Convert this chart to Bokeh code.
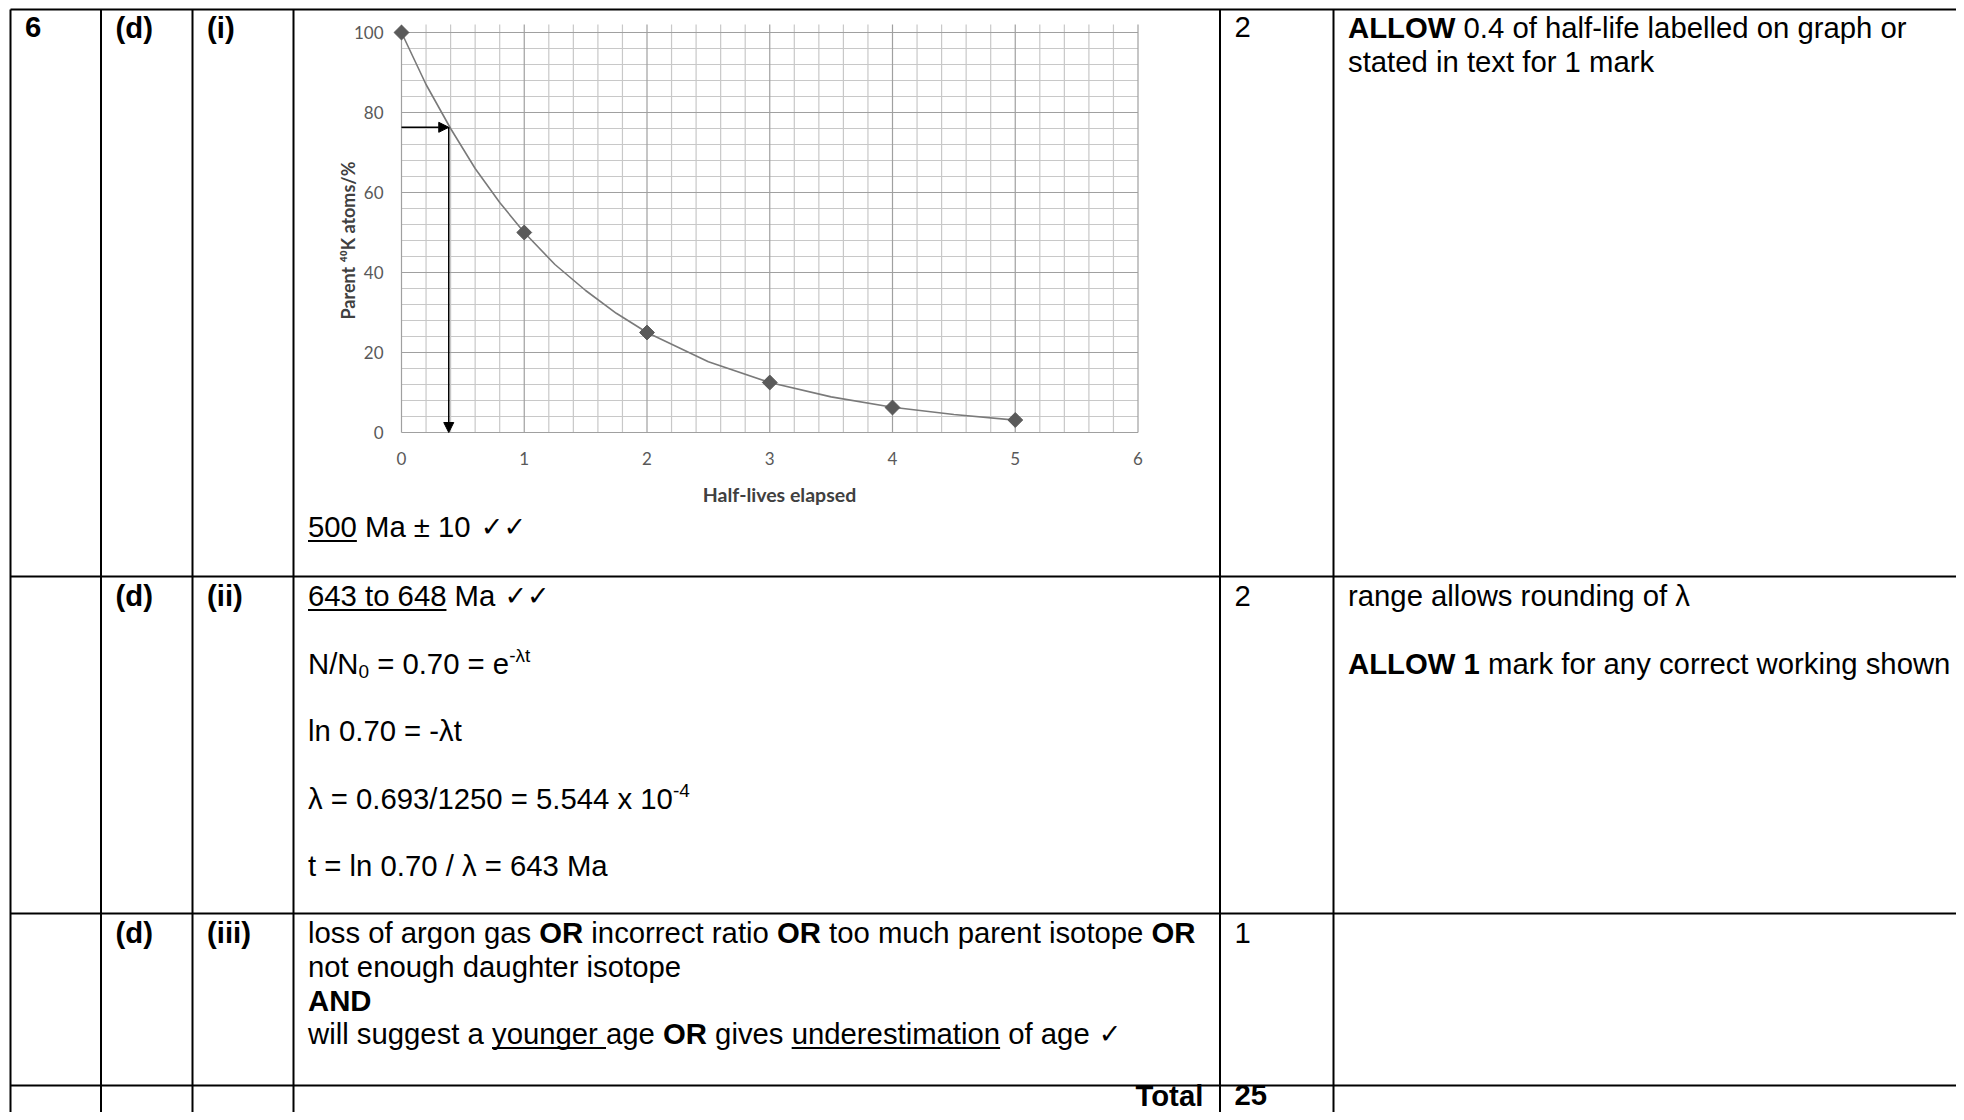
import numpy as np
from bokeh.plotting import figure
from bokeh.models import Range1d, LinearAxis, FixedTicker, Arrow, NormalHead
from bokeh.core.properties import value
from bokeh.embed import file_html
from bokeh.resources import INLINE

# ---------------- chart data ----------------
half_lives = [0, 1, 2, 3, 4, 5]
parent_pct = [100, 50, 25, 12.5, 6.25, 3.125]
curve_x = [0, 0.2, 0.4, 0.6, 0.8, 1.0, 1.25, 1.5, 1.75, 2.0, 2.5, 3.0, 3.5, 4.0, 4.5, 5.0]
curve_y = [100, 87, 76, 66, 57.5, 50, 42, 35.5, 29.8, 25, 17.7, 12.5, 8.9, 6.3, 4.5, 3.1]
x_ticks = [0, 1, 2, 3, 4, 5, 6]
y_ticks = [0, 20, 40, 60, 80, 100]
x_minor = [i / 5 for i in range(31)]
y_minor = [i * 4 for i in range(26)]
read_x = 0.385      # half-lives
read_y = 76.3       # percentage remaining
x_title = "Half-lives elapsed"
y_title = "Parent \u2074\u2070K atoms/%"

# ---------------- page layout ----------------
W, H = 1956, 1112
p = figure(width=W, height=H, x_range=Range1d(0, W), y_range=Range1d(H, 0),
           x_axis_type=None, y_axis_type=None, output_backend="svg",
           toolbar_location=None, min_border=0, outline_line_color=None,
           background_fill_color="white", border_fill_color="white")

CX0, CX6 = 401.0, 1137.5
KX = (CX6 - CX0) / 6
CY0, KY = 432.0, 4.0
p.extra_x_ranges = {"cx": Range1d((0 - CX0) / KX, (W - CX0) / KX)}
p.extra_y_ranges = {"cy": Range1d((CY0 - H) / KY, (CY0 - 0) / KY)}
C = dict(x_range_name="cx", y_range_name="cy")

# grid
mx = [v for v in x_minor if abs(v - round(v)) > 1e-9]
my = [v for v in y_minor if v % 20 != 0]
p.segment(mx, [0] * len(mx), mx, [102] * len(mx), line_color="#c8c8c8", line_width=1.2, **C)
p.segment([0] * len(my), my, [6] * len(my), my, line_color="#c8c8c8", line_width=1.2, **C)
p.segment(x_ticks, [0] * len(x_ticks), x_ticks, [102] * len(x_ticks), line_color="#a0a0a0", line_width=1.2, **C)
p.segment([0] * len(y_ticks), y_ticks, [6] * len(y_ticks), y_ticks, line_color="#a0a0a0", line_width=1.2, **C)

# curve + points
p.line(curve_x, curve_y, line_color="#7a7a7a", line_width=1.6, **C)
p.scatter(half_lives, parent_pct, marker="square", angle=np.pi / 4, size=10.5,
          fill_color="#5a5a5a", line_color="#5a5a5a", **C)

# arrows
p.add_layout(Arrow(end=NormalHead(size=10, fill_color="black", line_color="black"),
                   x_start=0, y_start=read_y, x_end=read_x, y_end=read_y,
                   line_color="black", line_width=1.5, **C))
p.add_layout(Arrow(end=NormalHead(size=10, fill_color="black", line_color="black"),
                   x_start=read_x, y_start=read_y, x_end=read_x, y_end=0,
                   line_color="black", line_width=1.5, **C))

# axes (fixed inside the page)
ax_style = dict(axis_line_color=None, major_tick_line_color=None, minor_tick_line_color=None,
                major_tick_in=0, major_tick_out=0, minor_tick_in=0, minor_tick_out=0,
                major_label_text_font="Lato", major_label_text_font_size="17px",
                major_label_text_color="#595959")
xa = LinearAxis(fixed_location=0, ticker=FixedTicker(ticks=x_ticks), major_label_standoff=19, **ax_style, **C)
ya = LinearAxis(fixed_location=0, ticker=FixedTicker(ticks=y_ticks), major_label_standoff=18, **ax_style, **C)
p.add_layout(xa, "below")
p.add_layout(ya, "left")

p.text([779], [494], [x_title], text_font=value("Lato"), text_font_style="bold",
       text_font_size=value("19.5px"), text_align="center", text_baseline="middle", text_color="#404040")
p.text([347], [240], [y_title], angle=np.pi / 2, text_font=value("Lato"), text_font_style="bold",
       text_font_size=value("18px"), text_align="center", text_baseline="middle", text_color="#404040")

# ---------------- table ----------------
REG = dict(zip("ABCDEFGHIJKLMNOPQRSTUVWXYZ", [667, 667, 722, 722, 667, 611, 778, 722, 278, 500, 667, 556, 833,
                                             722, 778, 667, 778, 722, 667, 611, 722, 667, 944, 667, 667, 611]))
REG.update(zip("abcdefghijklmnopqrstuvwxyz", [556, 556, 500, 556, 556, 278, 556, 556, 222, 222, 500, 222, 833,
                                             556, 556, 556, 556, 333, 500, 278, 556, 500, 722, 500, 500, 500]))
REG.update({c: 556 for c in "0123456789"})
REG.update({" ": 278, "(": 333, ")": 333, ".": 278, "/": 278, "-": 333, "=": 584, "\u00b1": 584,
            "\u03bb": 500, ",": 278, "%": 889})
BOLD = dict(zip("ABCDEFGHIJKLMNOPQRSTUVWXYZ", [722, 722, 722, 722, 667, 611, 778, 722, 278, 556, 722, 611, 833,
                                              722, 778, 667, 778, 722, 667, 611, 722, 667, 944, 667, 667, 611]))
BOLD.update(zip("abcdefghijklmnopqrstuvwxyz", [556, 611, 556, 611, 556, 333, 611, 611, 278, 278, 556, 278, 889,
                                              611, 611, 611, 611, 389, 556, 333, 611, 556, 778, 556, 556, 500]))
BOLD.update({c: 556 for c in "0123456789"})
BOLD.update({" ": 278, "(": 333, ")": 333})

F = 29.3
FS = 19.0
FC = 27.0
LH = 33.7
MID = 0.347   # distance from alphabetic baseline to the em-box middle, in em


def tw(s, bold=False, size=F):
    t = BOLD if bold else REG
    return sum(t.get(c, 556) for c in s) * size / 1000.0


groups = {"r": ([], [], []), "b": ([], [], []), "s": ([], [], []), "c": ([], [], [])}
sizes = {"r": F, "b": F, "s": FS, "c": FC}
ulines = ([], [], [])


def add(g, x, y, t, bold=False):
    lead = len(t) - len(t.lstrip(" "))
    t2 = t.strip(" ")
    if not t2:
        return
    sz = sizes[g]
    groups[g][0].append(x + tw(" " * lead, bold, sz))
    groups[g][1].append(y - MID * sz)
    groups[g][2].append(t2)


def put(x, y, parts):
    for txt, kind in parts:
        if kind in ("r", "u"):
            add("r", x, y, txt)
            w = tw(txt)
            if kind == "u":
                ulines[0].append(x); ulines[1].append(x + w); ulines[2].append(y + 4)
        elif kind == "b":
            add("b", x, y, txt, True)
            w = tw(txt, True)
        elif kind == "sup":
            add("s", x, y - 11, txt)
            w = tw(txt, False, FS)
        elif kind == "sub":
            add("s", x, y + 5, txt)
            w = tw(txt, False, FS)
        else:
            groups["c"][0].append(x + 1)
            groups["c"][1].append(y - 1 - MID * FC)
            groups["c"][2].append(txt)
            w = len(txt) * 0.84 * FC + 2
        x += w


cols = [10, 100.5, 192, 293, 1219.5, 1333]
rows = [9, 576, 913, 1085]
PAD = 14.5
tx = [c + PAD for c in cols]
b1, b2, b3, b4 = 37, 605.5, 942.5, 1105

# row 1
put(tx[0], b1, [("6", "b")])
put(tx[1], b1, [("(d)", "b")])
put(tx[2], b1, [("(i)", "b")])
put(tx[4], b1, [("2", "r")])
put(tx[5], b1, [("ALLOW", "b"), (" 0.4 of half-life labelled on graph or", "r")])
put(tx[5], b1 + LH, [("stated in text for 1 mark", "r")])
put(tx[3], 536.5, [("500", "u"), (" Ma \u00b1 10 ", "r"), ("\u2713\u2713", "chk")])

# row 2
put(tx[1], b2, [("(d)", "b")])
put(tx[2], b2, [("(ii)", "b")])
put(tx[4], b2, [("2", "r")])
put(tx[3], b2, [("643 to 648", "u"), (" Ma ", "r"), ("\u2713\u2713", "chk")])
put(tx[3], b2 + 2 * LH, [("N/N", "r"), ("0", "sub"), (" = 0.70 = e", "r"), ("-\u03bbt", "sup")])
put(tx[3], b2 + 4 * LH, [("ln 0.70 = -\u03bbt", "r")])
put(tx[3], b2 + 6 * LH, [("\u03bb = 0.693/1250 = 5.544 x 10", "r"), ("-4", "sup")])
put(tx[3], b2 + 8 * LH, [("t = ln 0.70 / \u03bb = 643 Ma", "r")])
put(tx[5], b2, [("range allows rounding of \u03bb", "r")])
put(tx[5], b2 + 2 * LH, [("ALLOW 1", "b"), (" mark for any correct working shown", "r")])

# row 3
put(tx[1], b3, [("(d)", "b")])
put(tx[2], b3, [("(iii)", "b")])
put(tx[4], b3, [("1", "r")])
put(tx[3], b3, [("loss of argon gas ", "r"), ("OR", "b"), (" incorrect ratio ", "r"), ("OR", "b"),
                (" too much parent isotope ", "r"), ("OR", "b")])
put(tx[3], b3 + LH, [("not enough daughter isotope", "r")])
put(tx[3], b3 + 2 * LH, [("AND", "b")])
put(tx[3], b3 + 3 * LH, [("will suggest a ", "r"), ("younger ", "u"), ("age ", "r"), ("OR", "b"),
                         (" gives ", "r"), ("underestimation", "u"), (" of age ", "r"), ("\u2713", "chk")])

# row 4
put(cols[4] - PAD - tw("Total", True), b4, [("Total", "b")])
put(tx[4], b4, [("25", "b")])

styles = {"r": ("Liberation Sans", "normal", f"{F}px"),
          "b": ("Liberation Sans", "bold", f"{F}px"),
          "s": ("Liberation Sans", "normal", f"{FS}px"),
          "c": ("DejaVu Sans", "normal", f"{FC}px")}
for g, (xs, ys, ts) in groups.items():
    fnt, sty, sz = styles[g]
    p.text(xs, ys, ts, text_font=value(fnt), text_font_style=sty, text_font_size=value(sz),
           text_align="left", text_baseline="middle", text_color="black")

p.segment(ulines[0], ulines[2], ulines[1], ulines[2], line_color="black", line_width=2)

# table rules
p.segment([cols[0]] * len(rows), rows, [W + 10] * len(rows), rows, line_color="black", line_width=2.2)
p.segment(cols, [rows[0]] * len(cols), cols, [H + 10] * len(cols), line_color="black", line_width=2)

open("out.html", "w").write(file_html(p, INLINE))
